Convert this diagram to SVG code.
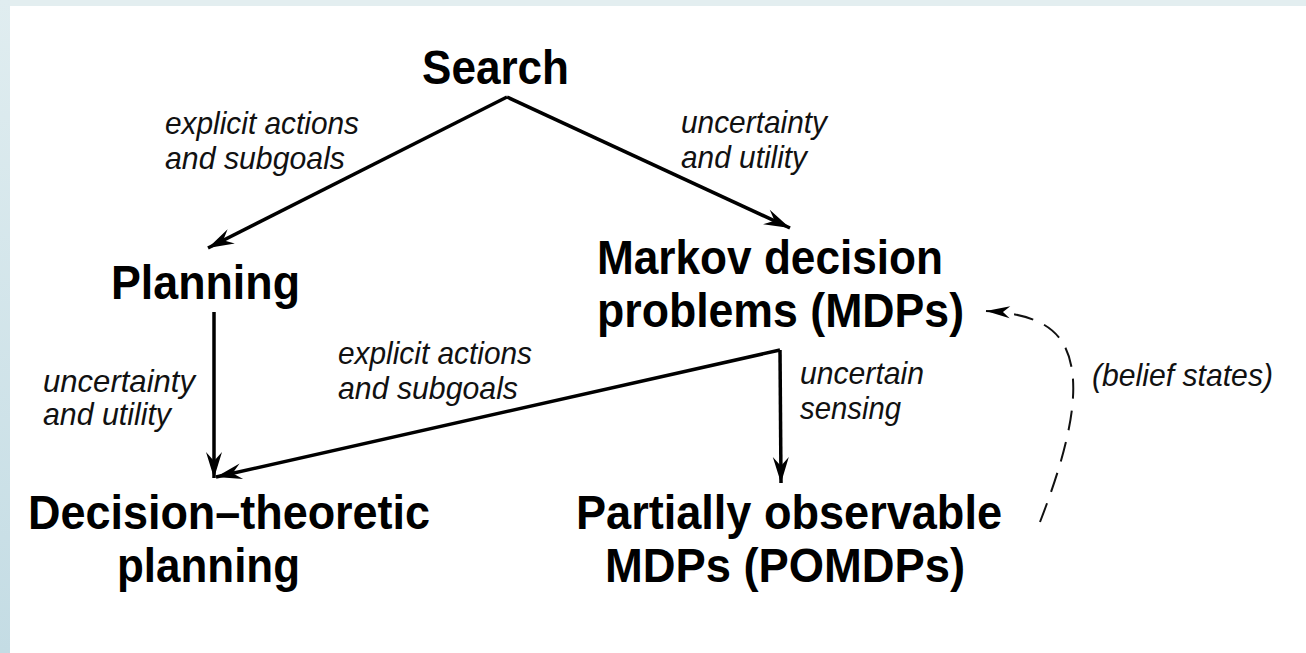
<svg xmlns="http://www.w3.org/2000/svg" width="1306" height="653" viewBox="0 0 1306 653">
<defs>
<linearGradient id="lg" x1="0" y1="0" x2="0" y2="1">
<stop offset="0" stop-color="#e0edf0"/>
<stop offset="1" stop-color="#c4dce4"/>
</linearGradient>
<marker id="ah" markerUnits="userSpaceOnUse" markerWidth="32" markerHeight="22" viewBox="-28 -11 32 22" refX="0" refY="0" orient="auto">
<path d="M0,0 L-26,-8 L-17,0 L-26,8 Z" fill="#000"/>
</marker>
<marker id="oh" markerUnits="userSpaceOnUse" markerWidth="30" markerHeight="20" viewBox="-26 -10 30 20" refX="0" refY="0" orient="auto">
<path d="M0,0 L-24,-6 L-17,0 L-24,6 Z" fill="#000"/>
</marker>
<style>
.n{font-family:"Liberation Sans",Arial,sans-serif;font-weight:bold;font-size:48px;fill:#000}
.l{font-family:"Liberation Sans",Arial,sans-serif;font-style:italic;font-size:32px;fill:#111}
.c{fill:none;stroke:#000;stroke-width:3.5}
.d{fill:none;stroke:#111;stroke-width:2;stroke-dasharray:20 12}
</style>
</defs>
<rect width="1306" height="653" fill="#fff"/>
<rect width="1306" height="6" fill="#e3eef0"/>
<rect width="10" height="653" fill="url(#lg)"/>
<g id="connectors">
<path class="c" d="M507,97 L208,248" marker-end="url(#ah)"/>
<path class="c" d="M507,97 L790,228" marker-end="url(#ah)"/>
<path class="c" d="M214,312 L214,478" marker-end="url(#ah)"/>
<path class="c" d="M780,350 L216,477" marker-end="url(#ah)"/>
<path class="c" d="M780,350 L781,483" marker-end="url(#ah)"/>
<path class="d" d="M1040,522 C1062,465 1078,410 1072,370 C1066,330 1040,314 986,311" marker-end="url(#oh)"/>
</g>
<g id="labels">
<text class="l" x="165" y="134" textLength="194" lengthAdjust="spacingAndGlyphs">explicit actions</text>
<text class="l" x="165" y="169" textLength="180" lengthAdjust="spacingAndGlyphs">and subgoals</text>
<text class="l" x="681" y="133" textLength="146" lengthAdjust="spacingAndGlyphs">uncertainty</text>
<text class="l" x="681" y="168" textLength="126" lengthAdjust="spacingAndGlyphs">and utility</text>
<text class="l" x="43" y="392" textLength="152" lengthAdjust="spacingAndGlyphs">uncertainty</text>
<text class="l" x="43" y="425" textLength="128" lengthAdjust="spacingAndGlyphs">and utility</text>
<text class="l" x="338" y="364" textLength="194" lengthAdjust="spacingAndGlyphs">explicit actions</text>
<text class="l" x="338" y="399" textLength="180" lengthAdjust="spacingAndGlyphs">and subgoals</text>
<text class="l" x="800" y="384" textLength="124" lengthAdjust="spacingAndGlyphs">uncertain</text>
<text class="l" x="800" y="419" textLength="101" lengthAdjust="spacingAndGlyphs">sensing</text>
<text class="l" x="1092" y="386" textLength="181" lengthAdjust="spacingAndGlyphs">(belief states)</text>
</g>
<g id="search"><text class="n" x="422" y="84" textLength="147" lengthAdjust="spacingAndGlyphs">Search</text></g>
<g id="planning"><text class="n" x="111" y="299" textLength="189" lengthAdjust="spacingAndGlyphs">Planning</text></g>
<g id="mdp">
<text class="n" x="597" y="274" textLength="346" lengthAdjust="spacingAndGlyphs">Markov decision</text>
<text class="n" x="597" y="327" textLength="367" lengthAdjust="spacingAndGlyphs">problems (MDPs)</text>
</g>
<g id="dtp">
<text class="n" x="28" y="529" textLength="402" lengthAdjust="spacingAndGlyphs">Decision–theoretic</text>
<text class="n" x="117" y="582" textLength="183" lengthAdjust="spacingAndGlyphs">planning</text>
</g>
<g id="pomdp">
<text class="n" x="576" y="529" textLength="426" lengthAdjust="spacingAndGlyphs">Partially observable</text>
<text class="n" x="605" y="582" textLength="360" lengthAdjust="spacingAndGlyphs">MDPs (POMDPs)</text>
</g>
</svg>
